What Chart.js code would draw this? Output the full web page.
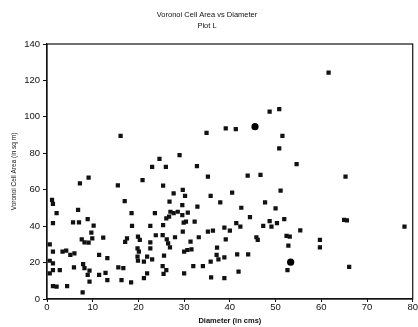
<!DOCTYPE html>
<html><head><meta charset="utf-8">
<script src="https://cdn.jsdelivr.net/npm/chart.js@4"></script>
<style>html,body{margin:0;padding:0;background:#fff}</style>
</head><body>
<canvas id="c" width="418" height="327"></canvas>
<script>
const titleLines = ['Voronoi Cell Area vs Diameter', 'Plot L'];
const xTitle = 'Diameter (in cms)';
const yTitle = 'Voronoi Cell Area (in sq m)';
const xTicks = [0, 10, 20, 30, 40, 50, 60, 70, 80];
const yTicks = [0, 20, 40, 60, 80, 100, 120, 140];

const diameter = [
  16.1,24.6,23.0,26.0,48.7,50.8,34.9,39.1,41.3,51.5,50.8,29.0,32.8,61.6,54.6,
  9.1,7.2,15.5,20.9,25.4,1.1,1.3,17.0,2.1,6.8,18.5,23.6,1.3,5.7,7.0,8.9,10.2,18.6,22.6,25.4,
  9.7,7.6,8.2,9.1,9.9,12.3,17.5,17.1,19.9,20.3,22.6,23.8,0.6,1.3,3.4,4.2,5.1,6.0,
  19.8,20.1,19.8,19.9,21.9,22.6,23.0,21.2,11.4,13.2,7.9,8.2,9.3,8.9,9.3,11.4,12.8,13.2,
  15.6,16.7,16.3,18.4,21.9,21.2,25.3,25.5,0.6,1.3,1.3,2.8,0.6,5.9,1.3,2.1,4.4,7.8,
  35.2,43.9,46.7,27.7,29.7,30.2,35.8,40.5,26.8,29.6,32.9,37.9,47.7,50.0,42.5,
  27.0,27.7,28.6,29.6,30.8,26.1,26.7,30.4,29.9,32.3,44.4,41.4,42.3,47.3,48.7,49.1,50.3,
  38.8,40.0,35.2,36.3,29.7,25.3,28.0,26.2,26.5,26.9,31.4,33.2,39.1,45.8,46.1,
  30.0,30.7,31.6,37.2,37.1,37.5,38.8,41.6,44.0,25.6,26.1,30.0,32.0,34.1,35.8,35.9,38.8,41.9,
  65.3,51.1,51.9,65.0,65.6,78.2,55.4,52.4,53.1,59.7,59.7,52.8,52.6,66.1
];
const area = [
  89.5,76.9,72.5,72.5,102.9,104.3,91.2,93.7,93.2,89.5,82.7,79.0,73.0,124.3,74.1,
  66.6,63.5,62.4,65.3,62.2,54.4,52.2,53.8,47.1,48.9,47.1,47.1,41.6,42.1,42.1,43.8,40.3,40.1,40.1,40.6,
  36.4,32.8,31.1,30.9,33.3,33.7,33.3,31.3,34.2,32.4,31.1,35.0,30.0,26.0,26.0,26.5,24.2,25.1,
  27.8,26.0,23.2,21.0,23.2,27.8,21.8,20.5,24.2,22.4,19.1,16.9,15.6,13.2,9.5,13.2,14.4,10.4,
  17.4,16.9,10.4,9.1,14.1,11.4,18.1,13.8,21.0,19.6,15.9,15.9,14.1,17.4,7.1,6.8,7.1,3.7,
  67.2,67.7,68.1,58.0,59.9,56.6,56.6,58.4,53.4,51.6,50.7,53.1,53.1,49.8,50.1,
  47.9,47.1,47.9,46.1,47.4,44.3,45.2,42.5,41.9,42.5,44.9,41.6,39.7,40.1,42.8,39.7,41.6,
  39.2,37.6,37.0,37.6,37.0,35.1,33.9,32.8,30.6,28.4,31.5,33.9,32.8,33.9,32.4,
  26.0,26.9,27.3,28.2,24.2,21.8,22.9,24.5,24.5,23.8,15.9,14.1,18.1,18.1,20.5,11.9,11.4,15.0,
  67.2,59.5,43.9,43.4,43.2,39.7,37.7,34.6,34.2,32.4,28.4,29.3,15.9,17.7
];
const largeDiameter = [45.5, 53.3];
const largeArea = [94.6, 20.2];

const FONT = "'Liberation Sans', Arial, Helvetica, sans-serif";

const boxPlugin = {
  id: 'box',
  afterDraw(chart) {
    const {ctx, chartArea: a} = chart;
    ctx.save();
    ctx.strokeStyle = '#111';
    ctx.lineWidth = 1.2;
    ctx.strokeRect(a.left, a.top, a.right - a.left, a.bottom - a.top);
    ctx.restore();
  }
};

new Chart(document.getElementById('c'), {
  type: 'scatter',
  data: {
    datasets: [
      {
        data: diameter.map((d, i) => ({x: d, y: area[i]})),
        pointStyle: 'rect',
        pointRadius: 3,
        backgroundColor: '#111',
        borderColor: '#111',
        borderWidth: 0
      },
      {
        data: largeDiameter.map((d, i) => ({x: d, y: largeArea[i]})),
        pointStyle: 'circle',
        pointRadius: 3.6,
        backgroundColor: '#000',
        borderColor: '#000',
        borderWidth: 0
      }
    ]
  },
  options: {
    responsive: false,
    animation: false,
    devicePixelRatio: 1,
    layout: {padding: {left: 0, right: 4, top: 0, bottom: 0}},
    plugins: {
      legend: {display: false},
      tooltip: {enabled: false},
      title: {
        display: true,
        text: titleLines,
        color: '#111',
        font: {family: FONT, size: 7.5, weight: 'normal', lineHeight: 1.4},
        padding: {top: 9.75, bottom: 13.25}
      }
    },
    scales: {
      x: {
        type: 'linear',
        min: 0, max: 80,
        afterBuildTicks: s => { s.ticks = xTicks.map(v => ({value: v})); },
        afterFit: s => { s.height = 28; },
        ticks: {color: '#111', padding: 0, font: {family: FONT, size: 9.5}, maxRotation: 0},
        grid: {display: true, drawOnChartArea: false, drawTicks: true, tickLength: 3, color: '#111'},
        border: {display: true, color: '#111', width: 1.2},
        title: {display: true, text: xTitle, color: '#111',
          font: {family: FONT, size: 7.5, weight: 'bold'}, padding: {top: 0, bottom: 1.5}}
      },
      y: {
        type: 'linear',
        min: 0, max: 140,
        afterBuildTicks: s => { s.ticks = yTicks.map(v => ({value: v})); },
        afterFit: s => { s.width = 47; },
        ticks: {color: '#111', padding: 3, font: {family: FONT, size: 9.5}},
        grid: {display: true, drawOnChartArea: false, drawTicks: true, tickLength: 4, color: '#111'},
        border: {display: true, color: '#111', width: 1.2},
        title: {display: true, text: yTitle, color: '#111',
          font: {family: FONT, size: 6.5, weight: 'normal'}, padding: {top: 10, bottom: 0}}
      }
    }
  },
  plugins: [boxPlugin]
});
</script>
</body></html>
